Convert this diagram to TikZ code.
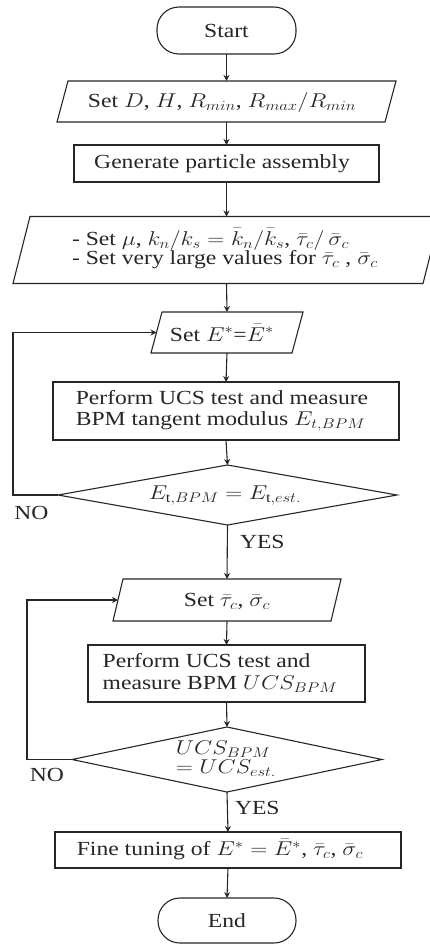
\documentclass[tikz,border=0pt]{standalone}
\usepackage{fix-cm}
\usepackage{fontspec}
\setmainfont{Liberation Serif}
\usepackage{graphicx}
\usetikzlibrary{calc,arrows.meta}
% text is set slightly wide, as in the flowchart's typesetting
\newcommand\wtxt[1]{\scalebox{1.18}[1]{#1}}
\newcommand\ltab[1]{\begin{tabular}{@{}l@{}}#1\end{tabular}}

\begin{document}
\begin{tikzpicture}[x=1pt,y=-1pt,
  frame/.style={draw=black!85, line width=1.1pt},
  blank/.style={inner sep=0pt, outer sep=0pt},
  lbl/.style={font=\fontsize{20}{21}\selectfont, text=black!85, inner sep=0pt, outer sep=0pt},
  flow/.style={draw=black!85, line width=1.1pt, -{Stealth[length=6pt,width=6pt]}},
  term/.style={blank, frame, rounded corners=22pt}
]
\useasboundingbox (0,0) rectangle (429,947);

% ---- shapes ----
\node[term, minimum width=139pt, minimum height=47pt] (start) at (226.5,30.5) {};

\node[blank, minimum width=339pt, minimum height=41pt] (p1) at (226.5,101.5) {};
\draw[frame] ($(p1.north west)+(11pt,0pt)$) -- (p1.north east)
  -- ($(p1.south east)+(-11pt,0pt)$) -- (p1.south west) -- cycle;

\node[blank, frame, minimum width=305pt, minimum height=37pt] (gen) at (226.5,163.5) {};

\node[blank, minimum width=427pt, minimum height=67pt] (p2) at (226.5,250) {};
\draw[frame] ($(p2.north west)+(17pt,0pt)$) -- (p2.north east)
  -- ($(p2.south east)+(-17pt,0pt)$) -- (p2.south west) -- cycle;

\node[blank, minimum width=152pt, minimum height=41pt] (p3) at (227,332.5) {};
\draw[frame] ($(p3.north west)+(11pt,0pt)$) -- (p3.north east)
  -- ($(p3.south east)+(-11pt,0pt)$) -- (p3.south west) -- cycle;

\node[blank, frame, minimum width=346pt, minimum height=58pt] (meas1) at (226,411) {};

\node[blank, minimum width=339pt, minimum height=60pt] (d1) at (227.5,495) {};
\draw[frame] (d1.north) -- (d1.east) -- (d1.south) -- (d1.west) -- cycle;

\node[blank, minimum width=228pt, minimum height=42pt] (p4) at (227,600) {};
\draw[frame] ($(p4.north west)+(10pt,0pt)$) -- (p4.north east)
  -- ($(p4.south east)+(-10pt,0pt)$) -- (p4.south west) -- cycle;

\node[blank, frame, minimum width=277pt, minimum height=57pt] (meas2) at (226.5,673.5) {};

\node[blank, minimum width=310pt, minimum height=65pt] (d2) at (227,759.5) {};
\draw[frame] (d2.north) -- (d2.east) -- (d2.south) -- (d2.west) -- cycle;

\node[blank, frame, minimum width=346pt, minimum height=36pt] (fine) at (228,850) {};

\node[term, minimum width=138pt, minimum height=45pt] (end) at (227,920.5) {};

% ---- texts ----
\node[lbl] (t-start) at (226.5,31) {\wtxt{Start}};
\node[lbl] (t-p1) at (222,103) {\wtxt{Set $D$, $H$, $R_{min}$, $R_{max}/R_{min}$}};
\node[lbl] (t-gen) at (222,164) {\wtxt{Generate particle assembly}};
\node[lbl] (t-p2) at (225,249) {\wtxt{\renewcommand\arraystretch{0.8}\ltab{%
  - Set $\mu$, $k_n/k_s = \bar{k}_n/\bar{k}_s$, $\bar{\tau}_c/\,\bar{\sigma}_c$\\
  - Set very large values for $\bar{\tau}_c$ ,\ $\bar{\sigma}_c$}}};
\node[lbl] (t-p3) at (222,333) {\wtxt{Set $E^{*}$=$\bar{E}^{*}$}};
\node[lbl] (t-meas1) at (222,411) {\wtxt{\ltab{Perform UCS test and measure\\
  BPM tangent modulus $E_{t,BPM}$}}};
\node[lbl] (t-d1) at (225,496) {\wtxt{$E_{\mathrm{t},BPM} = E_{\mathrm{t},est.}$}};
\node[lbl] (t-p4) at (227,601) {\wtxt{Set $\bar{\tau}_c$, $\bar{\sigma}_c$}};
\node[lbl] (t-meas2) at (220,674) {\wtxt{\renewcommand\arraystretch{1.05}\ltab{Perform UCS test and\\
  measure BPM $UCS_{BPM}$}}};
\node[lbl] (t-d2) at (226,760) {\wtxt{\renewcommand\arraystretch{0.85}\ltab{$UCS_{BPM}$\\
  $= UCS_{est.}$}}};
\node[lbl] (t-fine) at (220,850) {\wtxt{Fine tuning of $E^{*} = \bar{E}^{*}$, $\bar{\tau}_c$, $\bar{\sigma}_c$}};
\node[lbl] (t-end) at (227,921) {\wtxt{End}};

% ---- branch labels ----
\node[lbl] (no1) at (31.5,513) {\wtxt{NO}};
\node[lbl, anchor=west] (yes1) at (240,542) {\wtxt{YES}};
\node[lbl] (no2) at (47,775) {\wtxt{NO}};
\node[lbl, anchor=west] (yes2) at (235,808) {\wtxt{YES}};

% ---- connectors ----
\draw[flow] (start.south) -- (p1.north);
\draw[flow] (p1.south) -- (gen.north);
\draw[flow] (gen.south) -- (p2.north);
\draw[flow] (p2.south) -- (p3.north);
\draw[flow] (p3.south) -- (meas1.north);
\draw[flow] (meas1.south) -- (d1.north);
\draw[flow] (d1.south) -- (p4.north);
\draw[flow] (p4.south) -- (meas2.north);
\draw[flow] (meas2.south) -- (d2.north);
\draw[flow] (d2.south) -- (fine.north);
\draw[flow] (fine.south) -- (end.north);

% loops back for the NO branches
\draw[flow] (d1.west) -- ++(-45pt,0pt) |- ($(p3.west)+(5.5pt,0pt)$);
\draw[flow] (d2.west) -- ++(-45pt,0pt) |- ($(p4.west)+(5pt,0pt)$);
\end{tikzpicture}
\end{document}
